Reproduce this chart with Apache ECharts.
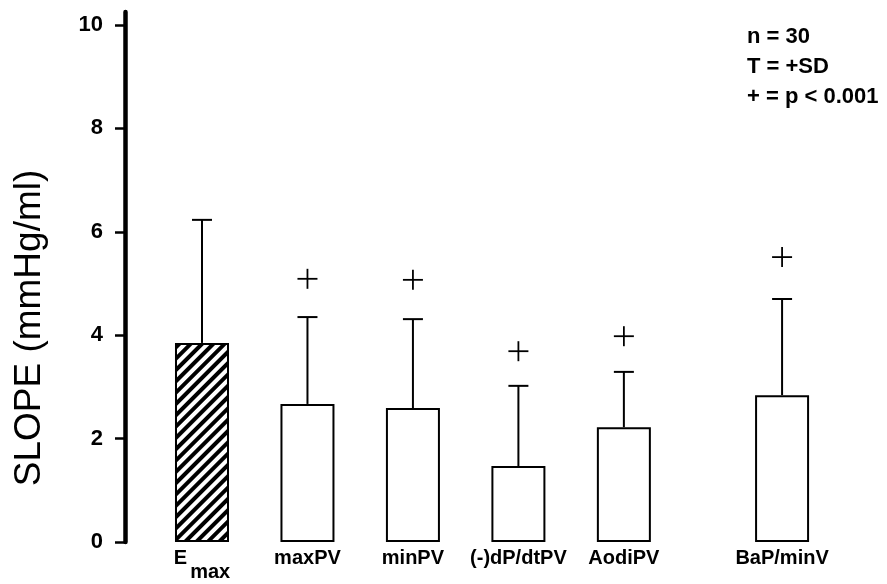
<!DOCTYPE html>
<html>
<head>
<meta charset="utf-8">
<script src="https://cdn.jsdelivr.net/npm/echarts@6/dist/echarts.min.js"></script>
<style>
html,body{margin:0;padding:0;background:#fff;}
#chart{width:887px;height:584px;}
</style>
</head>
<body>
<div id="chart"></div>
<script>
// ---- data ----
const categories = ['Emax', 'maxPV', 'minPV', '(-)dP/dtPV', 'AodiPV', 'BaP/minV'];
const slotPos = [1, 2, 3, 4, 5, 6.5];           // category slots on the x axis (BaP/minV set apart)
const meanValues = [3.85, 2.67, 2.59, 1.47, 2.22, 2.84];
const sdTopValues = [6.23, 4.35, 4.31, 3.02, 3.29, 4.70];
const plusValues = [null, 5.09, 5.07, 3.69, 3.98, 5.51];
const yTicks = [0, 2, 4, 6, 8, 10];
const legendLines = ['n = 30', 'T = +SD', '+ = p < 0.001'];

const FONT = '"Liberation Sans", Arial, Helvetica, sans-serif';

const chart = echarts.init(document.getElementById('chart'), null, {renderer: 'canvas'});

const barData = categories.map((c, i) => {
  const item = {value: [slotPos[i], meanValues[i]]};
  if (i === 0) {
    item.itemStyle = {
      color: '#fff',
      decal: {
        symbol: 'rect',
        symbolSize: 1,
        dashArrayX: [1, 0],
        dashArrayY: [3.5, 3.5],
        rotation: -Math.PI / 4,
        color: '#000'
      }
    };
  }
  return item;
});

const errData = categories.map((c, i) => [slotPos[i], meanValues[i], sdTopValues[i]]);
const plusData = [];
plusValues.forEach((v, i) => { if (v != null) plusData.push([slotPos[i], v]); });

const option = {
  animation: false,
  backgroundColor: '#fff',
  grid: {left: 125, right: 10, top: 12, bottom: 42, containLabel: false},
  xAxis: {
    type: 'value',
    min: 0.27,
    max: 7.4,
    axisLine: {show: false},
    axisTick: {show: false},
    splitLine: {show: false},
    axisLabel: {
      customValues: slotPos,
      margin: 6,
      color: '#000',
      fontFamily: FONT,
      fontWeight: 'bold',
      fontSize: 20,
      formatter: function (v) {
        const idx = slotPos.indexOf(v);
        if (idx < 0) return '';
        if (idx === 0) return '{e|E}{s|max}';
        return categories[idx];
      },
      rich: {
        e: {fontFamily: FONT, fontWeight: 'bold', fontSize: 20, color: '#000', verticalAlign: 'top'},
        s: {fontFamily: FONT, fontWeight: 'bold', fontSize: 20, color: '#000', verticalAlign: 'top', padding: [14, 0, 0, 3]}
      }
    }
  },
  yAxis: {
    type: 'value',
    min: 0,
    max: 10.25,
    axisLine: {show: true, lineStyle: {color: '#000', width: 4.5}},
    axisTick: {show: true, customValues: yTicks, length: 10, lineStyle: {color: '#000', width: 2.5}},
    splitLine: {show: false},
    axisLabel: {
      customValues: yTicks,
      margin: 22,
      color: '#000',
      fontFamily: FONT,
      fontWeight: 'bold',
      fontSize: 22
    }
  },
  series: [
    {
      type: 'bar',
      data: barData,
      barWidth: 54,
      itemStyle: {color: '#fff', borderColor: '#000', borderWidth: 2},
      z: 2
    },
    {
      type: 'custom',
      data: errData,
      z: 3,
      renderItem: function (params, api) {
        const x = api.value(0);
        const p0 = api.coord([x, api.value(1)]);
        const p1 = api.coord([x, api.value(2)]);
        const style = {stroke: '#000', lineWidth: 2};
        return {
          type: 'group',
          children: [
            {type: 'line', shape: {x1: p0[0], y1: p0[1], x2: p1[0], y2: p1[1]}, style: style},
            {type: 'line', shape: {x1: p1[0] - 10, y1: p1[1], x2: p1[0] + 10, y2: p1[1]}, style: style}
          ]
        };
      }
    },
    {
      type: 'custom',
      data: plusData,
      z: 3,
      renderItem: function (params, api) {
        const p = api.coord([api.value(0), api.value(1)]);
        const style = {stroke: '#000', lineWidth: 1.8};
        return {
          type: 'group',
          children: [
            {type: 'line', shape: {x1: p[0] - 10, y1: p[1], x2: p[0] + 10, y2: p[1]}, style: style},
            {type: 'line', shape: {x1: p[0], y1: p[1] - 10, x2: p[0], y2: p[1] + 10}, style: style}
          ]
        };
      }
    }
  ],
  graphic: [
    {
      type: 'text',
      x: 30,
      y: 328,
      rotation: Math.PI / 2,
      style: {
        text: 'SLOPE (mmHg/ml)',
        fontFamily: FONT,
        fontSize: 37,
        fill: '#000',
        align: 'center',
        verticalAlign: 'middle'
      }
    },
    {
      type: 'text',
      x: 747,
      y: 22,
      style: {
        text: legendLines.join('\n'),
        fontFamily: FONT,
        fontWeight: 'bold',
        fontSize: 22,
        lineHeight: 30,
        fill: '#000',
        align: 'left',
        verticalAlign: 'top'
      }
    }
  ]
};

chart.setOption(option);
</script>
</body>
</html>
